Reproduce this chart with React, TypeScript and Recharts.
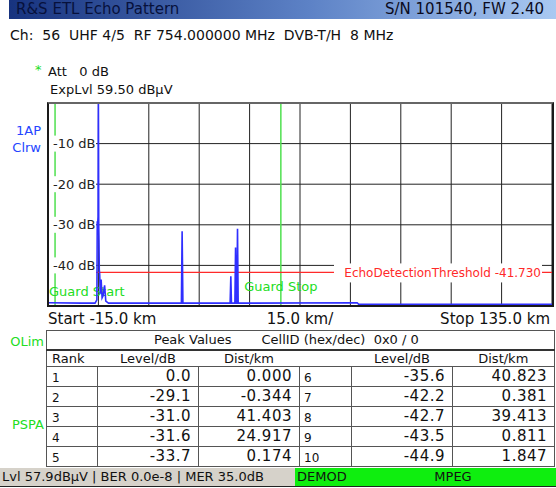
import React from 'react';
import { LineChart, Line, XAxis, YAxis, CartesianGrid, ReferenceLine } from 'recharts';

// echo trace: distance in km, level in dB relative to main path
const TRACE_KM = [
  -15, -5, -1.0, -0.45, -0.344, -0.28, -0.1, -0.03, 0, 0.03, 0.1, 0.174, 0.26, 0.381, 0.55, 0.811, 1.1, 1.4,
  1.847, 2.2, 3, 24.7, 24.917, 25.15, 39.2, 39.413, 39.6, 40.62, 40.823, 41.0, 41.2, 41.403, 41.6,
  77, 77.5, 135,
];
const TRACE_DB = [
  -49.2, -49.3, -49.3, -48.5, -29.1, -31, -28, -6, 0, -6, -30, -33.7, -41, -42.2, -47, -43.5, -48, -47.5,
  -44.9, -48.8, -49.3, -49.3, -31.6, -49.3, -49.3, -42.7, -49.3, -49.3, -35.6, -49.3, -49.3, -31.0, -49.3,
  -49.2, -49.6, -49.6,
];

const X_TICKS = [-15, 0, 15, 30, 45, 60, 75, 90, 105, 120, 135];
const Y_TICKS = [-50, -40, -30, -20, -10, 0];
const Y_LABELS = [-10, -20, -30, -40];
const GUARD_START_KM = -12.9;
const GUARD_STOP_KM = 54.3;
const THRESHOLD_DB = -41.73;

// peak table
const RANK_LEFT = [1, 2, 3, 4, 5];
const LEVEL_LEFT = [0.0, -29.1, -31.0, -31.6, -33.7];
const DIST_LEFT = [0.0, -0.344, 41.403, 24.917, 0.174];
const RANK_RIGHT = [6, 7, 8, 9, 10];
const LEVEL_RIGHT = [-35.6, -42.2, -42.7, -43.5, -44.9];
const DIST_RIGHT = [40.823, 0.381, 39.413, 0.811, 1.847];

const data = TRACE_KM.map((km, i) => ({ km, db: TRACE_DB[i] }));

const FONT = '"DejaVu Sans", Verdana, sans-serif';
const GRID = '#222';
const TRACE = '#2f2fff';
const GUARD = '#4fe04f';
const LABEL_GREEN = '#22dd22';
const RED = '#ff2a2a';

const Txt = ({ x, cy, size = 13, color = '#111', right, children, style }: any) => (
  <div
    style={{
      position: 'absolute',
      ...(right !== undefined ? { right } : { left: x }),
      top: cy - 10,
      height: 20,
      lineHeight: '20px',
      fontSize: size,
      color,
      whiteSpace: 'pre',
      ...style,
    }}
  >
    {children}
  </div>
);

const DbTick = (props: any) => {
  const { y, payload } = props;
  if (!Y_LABELS.includes(payload.value)) return <g />;
  return (
    <g>
      <rect x={49} y={y - 8} width={47} height={16} fill="#fff" />
      <text x={53} y={y} dominantBaseline="central" fontSize={13} fill="#222" fontFamily={FONT}>
        {`${payload.value} dB`}
      </text>
    </g>
  );
};

const NoTick = () => <g />;

const GuardStartLabel = ({ viewBox }: any) => (
  <text x={viewBox.x - 6} y={viewBox.y + viewBox.height - 15} dominantBaseline="central" fontSize={13} fill={LABEL_GREEN} fontFamily={FONT}>
    Guard Start
  </text>
);

const GuardStopLabel = ({ viewBox }: any) => (
  <text x={viewBox.x} y={viewBox.y + viewBox.height - 20} textAnchor="middle" dominantBaseline="central" fontSize={13} fill={LABEL_GREEN} fontFamily={FONT}>
    Guard Stop
  </text>
);

const ThresholdLabel = ({ viewBox }: any) => {
  const right = viewBox.x + viewBox.width - 11;
  return (
    <g>
      <rect x={right - 207} y={viewBox.y - 9} width={208} height={19} fill="#fff" />
      <text x={right} y={viewBox.y + 1} textAnchor="end" dominantBaseline="central" fontSize={12} fill={RED} fontFamily={FONT}>
        EchoDetectionThreshold -41.730
      </text>
    </g>
  );
};

const cell: React.CSSProperties = { border: '1px solid #555', padding: 0 };
const num = (v: number, d: number) => v.toFixed(d);

export default function App() {
  return (
    <div style={{ position: 'fixed', left: 0, top: 0, width: 556, height: 488, background: '#fff', fontFamily: FONT, overflow: 'hidden' }}>
      {/* title bar */}
      <div
        style={{
          position: 'absolute', left: 9, top: 0, width: 547, height: 19,
          background: 'linear-gradient(to right, #17337f, #5d82c6 55%, #a9c9f2)',
        }}
      />
      <Txt x={16} cy={9} size={15} color="#07113c">R&amp;S ETL Echo Pattern</Txt>
      <Txt right={12} cy={9} size={15} color="#0b0b20">S/N 101540, FW 2.40</Txt>
      <Txt x={10} cy={35} size={14}>{'Ch:  56  UHF 4/5  RF 754.000000 MHz  DVB-T/H  8 MHz'}</Txt>

      <Txt x={35} cy={70} size={13} color="#22dd22">*</Txt>
      <Txt x={48} cy={72} size={13}>{'Att   0 dB'}</Txt>
      <Txt x={50} cy={90} size={13}>ExpLvl 59.50 dBµV</Txt>
      <Txt right={515} cy={131} size={13} color="#2445ff">1AP</Txt>
      <Txt right={515} cy={148} size={13} color="#2445ff">Clrw</Txt>

      <div style={{ position: 'absolute', left: 0, top: 0 }}>
        <LineChart width={556} height={330} data={data} margin={{ top: 103, right: 4, bottom: 22, left: 47 }}>
          <CartesianGrid stroke={GRID} strokeWidth={1} vertical horizontal />
          <XAxis
            dataKey="km"
            type="number"
            domain={[-15, 135]}
            ticks={X_TICKS}
            allowDataOverflow
            height={2}
            tick={<NoTick />}
            axisLine={false}
            tickLine={false}
          />
          <YAxis
            type="number"
            domain={[-50, 0]}
            ticks={Y_TICKS}
            allowDataOverflow
            width={1}
            axisLine={false}
            tickLine={false}
            tick={<DbTick />}
          />
          <ReferenceLine x={GUARD_START_KM} stroke={GUARD} strokeWidth={1.5} label={<GuardStartLabel />} />
          <ReferenceLine x={GUARD_STOP_KM} stroke={GUARD} strokeWidth={1.5} label={<GuardStopLabel />} />
          <ReferenceLine y={THRESHOLD_DB} stroke={RED} strokeWidth={1.2} label={<ThresholdLabel />} />
          <Line
            dataKey="db"
            type="linear"
            stroke={TRACE}
            strokeWidth={1.6}
            dot={false}
            isAnimationActive={false}
          />
        </LineChart>
      </div>
      {/* plot frame */}
      <div style={{ position: 'absolute', left: 47, top: 102, width: 507, height: 205, border: '2px solid #1a1a1a', borderTopColor: '#666', boxSizing: 'border-box' }} />

      <Txt x={48} cy={319} size={15}>Start -15.0 km</Txt>
      <Txt x={300} cy={319} size={15} style={{ transform: 'translateX(-50%)' }}>15.0 km/</Txt>
      <Txt right={6} cy={319} size={15}>Stop 135.0 km</Txt>

      <Txt right={512} cy={342} size={13} color={LABEL_GREEN}>OLim</Txt>
      <Txt right={512} cy={425} size={13} color={LABEL_GREEN}>PSPA</Txt>

      <table
        style={{
          position: 'absolute', left: 46, top: 330, width: 508, borderCollapse: 'collapse',
          tableLayout: 'fixed', fontFamily: FONT, color: '#111',
        }}
      >
        <colgroup>
          <col style={{ width: 51 }} />
          <col style={{ width: 101 }} />
          <col style={{ width: 101 }} />
          <col style={{ width: 52 }} />
          <col style={{ width: 101 }} />
          <col style={{ width: 102 }} />
        </colgroup>
        <tbody>
          <tr style={{ height: 19 }}>
            <td colSpan={6} style={{ border: '1px solid #555', borderBottom: '2px solid #333', padding: 0, fontSize: 13 }}>
              <span style={{ marginLeft: 107 }}>Peak Values</span>
              <span style={{ marginLeft: 30, whiteSpace: 'pre' }}>{'CellID (hex/dec)  0x0 / 0'}</span>
            </td>
          </tr>
          <tr style={{ height: 16, fontSize: 13 }}>
            <td style={{ padding: '0 0 0 5px', borderLeft: '1px solid #555', borderBottom: '1px solid #555' }}>Rank</td>
            <td style={{ textAlign: 'center', padding: 0, borderBottom: '1px solid #555' }}>Level/dB</td>
            <td style={{ textAlign: 'center', padding: 0, borderBottom: '1px solid #555' }}>Dist/km</td>
            <td style={{ borderBottom: '1px solid #555' }} />
            <td style={{ textAlign: 'center', padding: 0, borderBottom: '1px solid #555' }}>Level/dB</td>
            <td style={{ textAlign: 'center', padding: 0, borderRight: '1px solid #555', borderBottom: '1px solid #555' }}>Dist/km</td>
          </tr>
          {RANK_LEFT.map((r, i) => (
            <tr key={r} style={{ height: 20 }}>
              <td style={{ ...cell, paddingLeft: 5, paddingTop: 3, fontSize: 12 }}>{r}</td>
              <td style={{ ...cell, textAlign: 'right', paddingRight: 7, fontSize: 15, letterSpacing: 0.5 }}>{num(LEVEL_LEFT[i], 1)}</td>
              <td style={{ ...cell, textAlign: 'right', paddingRight: 7, fontSize: 15, letterSpacing: 0.5 }}>{num(DIST_LEFT[i], 3)}</td>
              <td style={{ ...cell, paddingLeft: 4, paddingTop: 3, fontSize: 12 }}>{RANK_RIGHT[i]}</td>
              <td style={{ ...cell, textAlign: 'right', paddingRight: 7, fontSize: 15, letterSpacing: 0.5 }}>{num(LEVEL_RIGHT[i], 1)}</td>
              <td style={{ ...cell, textAlign: 'right', paddingRight: 7, fontSize: 15, letterSpacing: 0.5 }}>{num(DIST_RIGHT[i], 3)}</td>
            </tr>
          ))}
        </tbody>
      </table>

      {/* status bar */}
      <div style={{ position: 'absolute', left: 0, top: 468, width: 295, height: 19, background: '#d6d2ca', borderBottom: '1px solid #222', boxSizing: 'border-box' }} />
      <div style={{ position: 'absolute', left: 295, top: 468, width: 261, height: 19, background: '#0fee0f', borderBottom: '1px solid #222', boxSizing: 'border-box' }} />
      <Txt x={2} cy={477} size={13}>{'Lvl 57.9dBµV | BER 0.0e-8 | MER 35.0dB'}</Txt>
      <Txt x={297} cy={477} size={13}>DEMOD</Txt>
      <Txt x={453} cy={477} size={13} style={{ transform: 'translateX(-50%)' }}>MPEG</Txt>
    </div>
  );
}
